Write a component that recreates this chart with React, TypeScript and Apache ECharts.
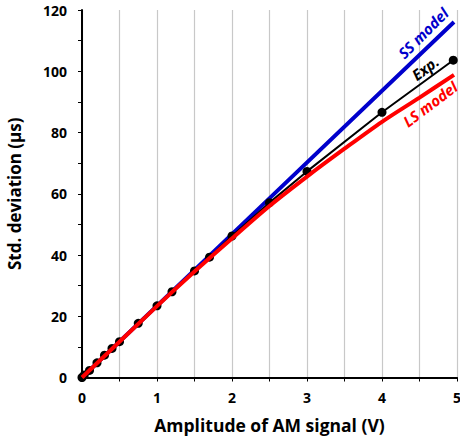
import React, { useEffect, useRef } from "react";
import * as echarts from "echarts";

const expX = [0, 0.03, 0.1, 0.2, 0.3, 0.4, 0.5, 0.75, 1.0, 1.2, 1.5, 1.7, 2.0, 2.5, 3.0, 4.0, 4.95];
const expY = [0, 0.8, 2.3, 4.8, 7.3, 9.5, 11.7, 17.7, 23.4, 28.0, 34.8, 39.3, 46.2, 57.1, 67.3, 86.6, 103.6];
const ssX = [0, 2, 4.96];
const ssY = [0, 46.8, 116.1];
const lsX = [0, 1, 1.5, 2, 2.5, 3, 3.5, 4, 4.5, 4.96];
const lsY = [0, 23.3, 34.6, 45.4, 56.0, 65.6, 74.7, 83.5, 91.4, 98.8];
const xTicks = [0, 1, 2, 3, 4, 5];
const yTicks = [0, 20, 40, 60, 80, 100, 120];

const FONT = "'Open Sans', Lato, sans-serif";

export default function App() {
  const ref = useRef<HTMLDivElement>(null);
  useEffect(() => {
    if (!ref.current) return;
    const chart = echarts.init(ref.current, null, { renderer: "svg" });
    const pairs = (xs: number[], ys: number[]) => xs.map((x, i) => [x, ys[i]]);
    chart.setOption({
      animation: false,
      backgroundColor: "#ffffff",
      grid: {
        left: 82,
        right: 3,
        top: 10,
        bottom: 63.5,
        containLabel: false,
        outerBoundsMode: "none",
      },
      xAxis: {
        type: "value",
        min: 0,
        max: 5,
        interval: 0.5,
        name: "Amplitude of AM signal (V)",
        nameLocation: "middle",
        nameGap: 38,
        nameTextStyle: { fontFamily: FONT, fontWeight: "bold", fontSize: 17.5, color: "#000" },
        axisLine: { onZero: false, lineStyle: { color: "#000", width: 2 } },
        axisTick: { show: true, length: 4, lineStyle: { color: "#000", width: 1 } },
        axisLabel: {
          margin: 13,
          fontFamily: FONT,
          fontWeight: "bold",
          fontSize: 14,
          color: "#000",
          formatter: (v: number) => (xTicks.includes(v) ? String(v) : ""),
        },
        splitLine: { show: true, lineStyle: { color: "#c8c8c8", width: 1.2 } },
      },
      yAxis: {
        type: "value",
        min: 0,
        max: 120,
        interval: 10,
        name: "Std. deviation (μs)",
        nameLocation: "middle",
        nameGap: 59,
        nameRotate: 90,
        nameTextStyle: { fontFamily: FONT, fontWeight: "bold", fontSize: 17, color: "#000" },
        axisLine: { onZero: false, lineStyle: { color: "#000", width: 2 } },
        axisTick: { show: true, length: 4, lineStyle: { color: "#000", width: 1 } },
        axisLabel: {
          margin: 15,
          fontFamily: FONT,
          fontWeight: "bold",
          fontSize: 14,
          color: "#000",
          formatter: (v: number) => (yTicks.includes(v) ? String(v) : ""),
        },
        splitLine: { show: false },
      },
      series: [
        {
          name: "SS model",
          type: "line",
          data: pairs(ssX, ssY),
          showSymbol: false,
          lineStyle: { color: "#0000cc", width: 4 },
          z: 2,
        },
        {
          name: "Exp.",
          type: "line",
          data: pairs(expX, expY),
          symbol: "circle",
          symbolSize: 9,
          itemStyle: { color: "#000" },
          lineStyle: { color: "#000", width: 2 },
          z: 3,
        },
        {
          name: "LS model",
          type: "line",
          data: pairs(lsX, lsY),
          smooth: 0.3,
          showSymbol: false,
          lineStyle: { color: "#ff0000", width: 4 },
          z: 4,
        },
      ],
      graphic: [
        {
          type: "text",
          x: 423,
          y: 33,
          rotation: (45 * Math.PI) / 180,
          z: 10,
          style: {
            text: "SS model",
            fill: "#0000cc",
            font: `italic bold 15px ${FONT}`,
            align: "center",
            verticalAlign: "middle",
          },
        },
        {
          type: "text",
          x: 425,
          y: 68,
          rotation: (37 * Math.PI) / 180,
          z: 10,
          style: {
            text: "Exp.",
            fill: "#000",
            font: `italic bold 15px ${FONT}`,
            align: "center",
            verticalAlign: "middle",
          },
        },
        {
          type: "text",
          x: 430,
          y: 104,
          rotation: (37 * Math.PI) / 180,
          z: 10,
          style: {
            text: "LS model",
            fill: "#ff0000",
            font: `italic bold 15px ${FONT}`,
            align: "center",
            verticalAlign: "middle",
          },
        },
      ],
    });
    return () => chart.dispose();
  }, []);
  return (
    <div
      ref={ref}
      style={{ position: "fixed", left: 0, top: 0, width: 460, height: 441 }}
    />
  );
}
